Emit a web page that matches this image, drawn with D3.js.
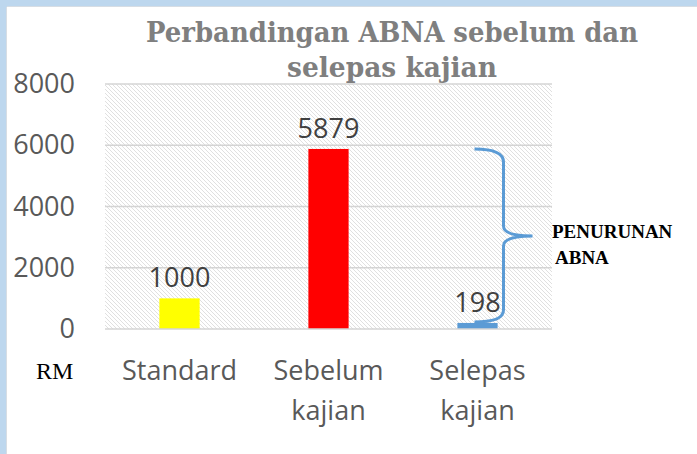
<!DOCTYPE html>
<html>
<head>
<meta charset="utf-8">
<script src="https://cdn.jsdelivr.net/npm/d3@7"></script>
<style>
  body { margin: 0; background: #fff; }
</style>
</head>
<body>
<div id="chart"></div>
<script>
// chart data
var categories = ["Standard", "Sebelum kajian", "Selepas kajian"];
var values = [1000, 5879, 198];
var barColors = ["#ffff00", "#ff0000", "#5b9bd5"];
var yTicks = [0, 2000, 4000, 6000, 8000];
var titleLines = ["Perbandingan ABNA sebelum dan", "selepas kajian"];
var noteLines = ["PENURUNAN", "ABNA"];
var unitLabel = "RM";

var width = 697, height = 454;
var margin = { top: 84, right: 145, bottom: 125, left: 105 };

var svg = d3.select("#chart")
    .append("svg")
    .attr("width", width)
    .attr("height", height);

// light blue frame (top and left edge of the screenshot)
svg.append("rect")
    .attr("width", width).attr("height", height)
    .attr("fill", "#bdd7ee");
svg.append("rect")
    .attr("x", 7).attr("y", 7)
    .attr("width", width - 7).attr("height", height - 7)
    .attr("fill", "#ffffff");
svg.append("line")
    .attr("x1", 7).attr("x2", width).attr("y1", 6.5).attr("y2", 6.5)
    .attr("stroke", "#d6dde4");
svg.append("line")
    .attr("x1", 6.5).attr("x2", 6.5).attr("y1", 7).attr("y2", height)
    .attr("stroke", "#d6dde4");

var defs = svg.append("defs");
var pat = defs.append("pattern")
    .attr("id", "hatch")
    .attr("patternUnits", "userSpaceOnUse")
    .attr("width", 4).attr("height", 4);
pat.append("path")
    .attr("d", "M0,0 L4,4 M-1,3 L1,5 M3,-1 L5,1")
    .attr("stroke", "#dcdcdc")
    .attr("stroke-width", 0.9);

var x = d3.scaleBand()
    .domain(categories)
    .range([margin.left, width - margin.right])
    .paddingInner(0.73)
    .paddingOuter(0.365);

var y = d3.scaleLinear()
    .domain([0, 8000])
    .range([height - margin.bottom, margin.top]);

// hatched plot area
svg.append("rect")
    .attr("x", margin.left)
    .attr("y", y(8000))
    .attr("width", width - margin.right - margin.left)
    .attr("height", y(0) - y(8000))
    .attr("fill", "url(#hatch)");

// gridlines
svg.selectAll(".grid")
    .data(yTicks.filter(function(d) { return d > 0; }))
    .enter().append("line")
    .attr("class", "grid")
    .attr("x1", margin.left)
    .attr("x2", width - margin.right)
    .attr("y1", function(d) { return y(d); })
    .attr("y2", function(d) { return y(d); })
    .attr("stroke", "#d4d4d4")
    .attr("stroke-width", 1.3);

// bars
svg.selectAll(".bar")
    .data(values)
    .enter().append("rect")
    .attr("class", "bar")
    .attr("x", function(d, i) { return x(categories[i]); })
    .attr("y", function(d) { return y(d); })
    .attr("width", x.bandwidth())
    .attr("height", function(d) { return y(0) - y(d); })
    .attr("fill", function(d, i) { return barColors[i]; });

// horizontal axis line
svg.append("line")
    .attr("x1", margin.left)
    .attr("x2", width - margin.right)
    .attr("y1", y(0))
    .attr("y2", y(0))
    .attr("stroke", "#d4d4d4")
    .attr("stroke-width", 1.3);

// y axis
var yAxis = svg.append("g")
    .attr("transform", "translate(" + margin.left + ",0)")
    .call(d3.axisLeft(y).tickValues(yTicks).tickSize(0).tickPadding(30).tickFormat(d3.format("d")));
yAxis.select(".domain").remove();
yAxis.selectAll("text")
    .attr("fill", "#595959")
    .style("font-family", "'Open Sans', sans-serif")
    .style("font-size", "27px");

// x axis with wrapped labels
var xAxis = svg.append("g")
    .attr("transform", "translate(0," + y(0) + ")")
    .call(d3.axisBottom(x).tickSize(0));
xAxis.select(".domain").remove();
xAxis.selectAll("text")
    .attr("fill", "#595959")
    .style("font-family", "'Open Sans', sans-serif")
    .style("font-size", "27px")
    .each(function(d) {
        var t = d3.select(this);
        var words = d.split(" ");
        t.text(null).attr("y", 0).attr("dy", null);
        words.forEach(function(w, i) {
            t.append("tspan")
                .attr("x", 0)
                .attr("y", 51 + i * 40)
                .text(w);
        });
    });

// data labels
svg.selectAll(".label")
    .data(values)
    .enter().append("text")
    .attr("class", "label")
    .attr("x", function(d, i) { return x(categories[i]) + x.bandwidth() / 2; })
    .attr("y", function(d) { return y(d) - 11; })
    .attr("text-anchor", "middle")
    .attr("fill", "#404040")
    .style("font-family", "'Open Sans', sans-serif")
    .style("font-size", "27px")
    .text(function(d) { return d; });

// title
svg.selectAll(".title")
    .data(titleLines)
    .enter().append("text")
    .attr("class", "title")
    .attr("x", 392)
    .attr("y", function(d, i) { return 42 + i * 35; })
    .attr("text-anchor", "middle")
    .attr("fill", "#7f7f7f")
    .style("font-family", "'DejaVu Serif', serif")
    .style("font-weight", "bold")
    .style("font-size", "27px")
    .attr("textLength", function(d, i) { return i === 0 ? 492 : 210; })
    .attr("lengthAdjust", "spacingAndGlyphs")
    .text(function(d) { return d; });

// brace showing the drop from "Sebelum" to "Selepas"
var bx = x(categories[2]) + x.bandwidth() / 2;
var yTop = y(values[1]), yBot = y(values[2]), yMid = (yTop + yBot) / 2;
var ex = bx - 3, vx = bx + 26, tip = bx + 55;
svg.append("path")
    .attr("d", "M" + ex + "," + yTop +
        " Q" + vx + "," + yTop + " " + vx + "," + (yTop + 13) +
        " L" + vx + "," + (yMid - 10) +
        " Q" + vx + "," + yMid + " " + tip + "," + yMid +
        " Q" + vx + "," + yMid + " " + vx + "," + (yMid + 10) +
        " L" + vx + "," + (yBot - 13) +
        " Q" + vx + "," + (yBot - 1) + " " + ex + "," + (yBot - 1))
    .attr("fill", "none")
    .attr("stroke", "#5b9bd5")
    .attr("stroke-width", 3);

// annotation text
svg.selectAll(".note")
    .data(noteLines)
    .enter().append("text")
    .attr("class", "note")
    .attr("x", function(d, i) { return 552 + i * 3; })
    .attr("y", function(d, i) { return 238 + i * 26; })
    .attr("fill", "#000")
    .style("font-family", "'Liberation Serif', serif")
    .style("font-weight", "bold")
    .style("font-size", "19px")
    .text(function(d) { return d; });

// unit label
svg.append("text")
    .attr("x", 36)
    .attr("y", 379)
    .attr("fill", "#000")
    .style("font-family", "'Liberation Serif', serif")
    .style("font-size", "24px")
    .text(unitLabel);
</script>
</body>
</html>
